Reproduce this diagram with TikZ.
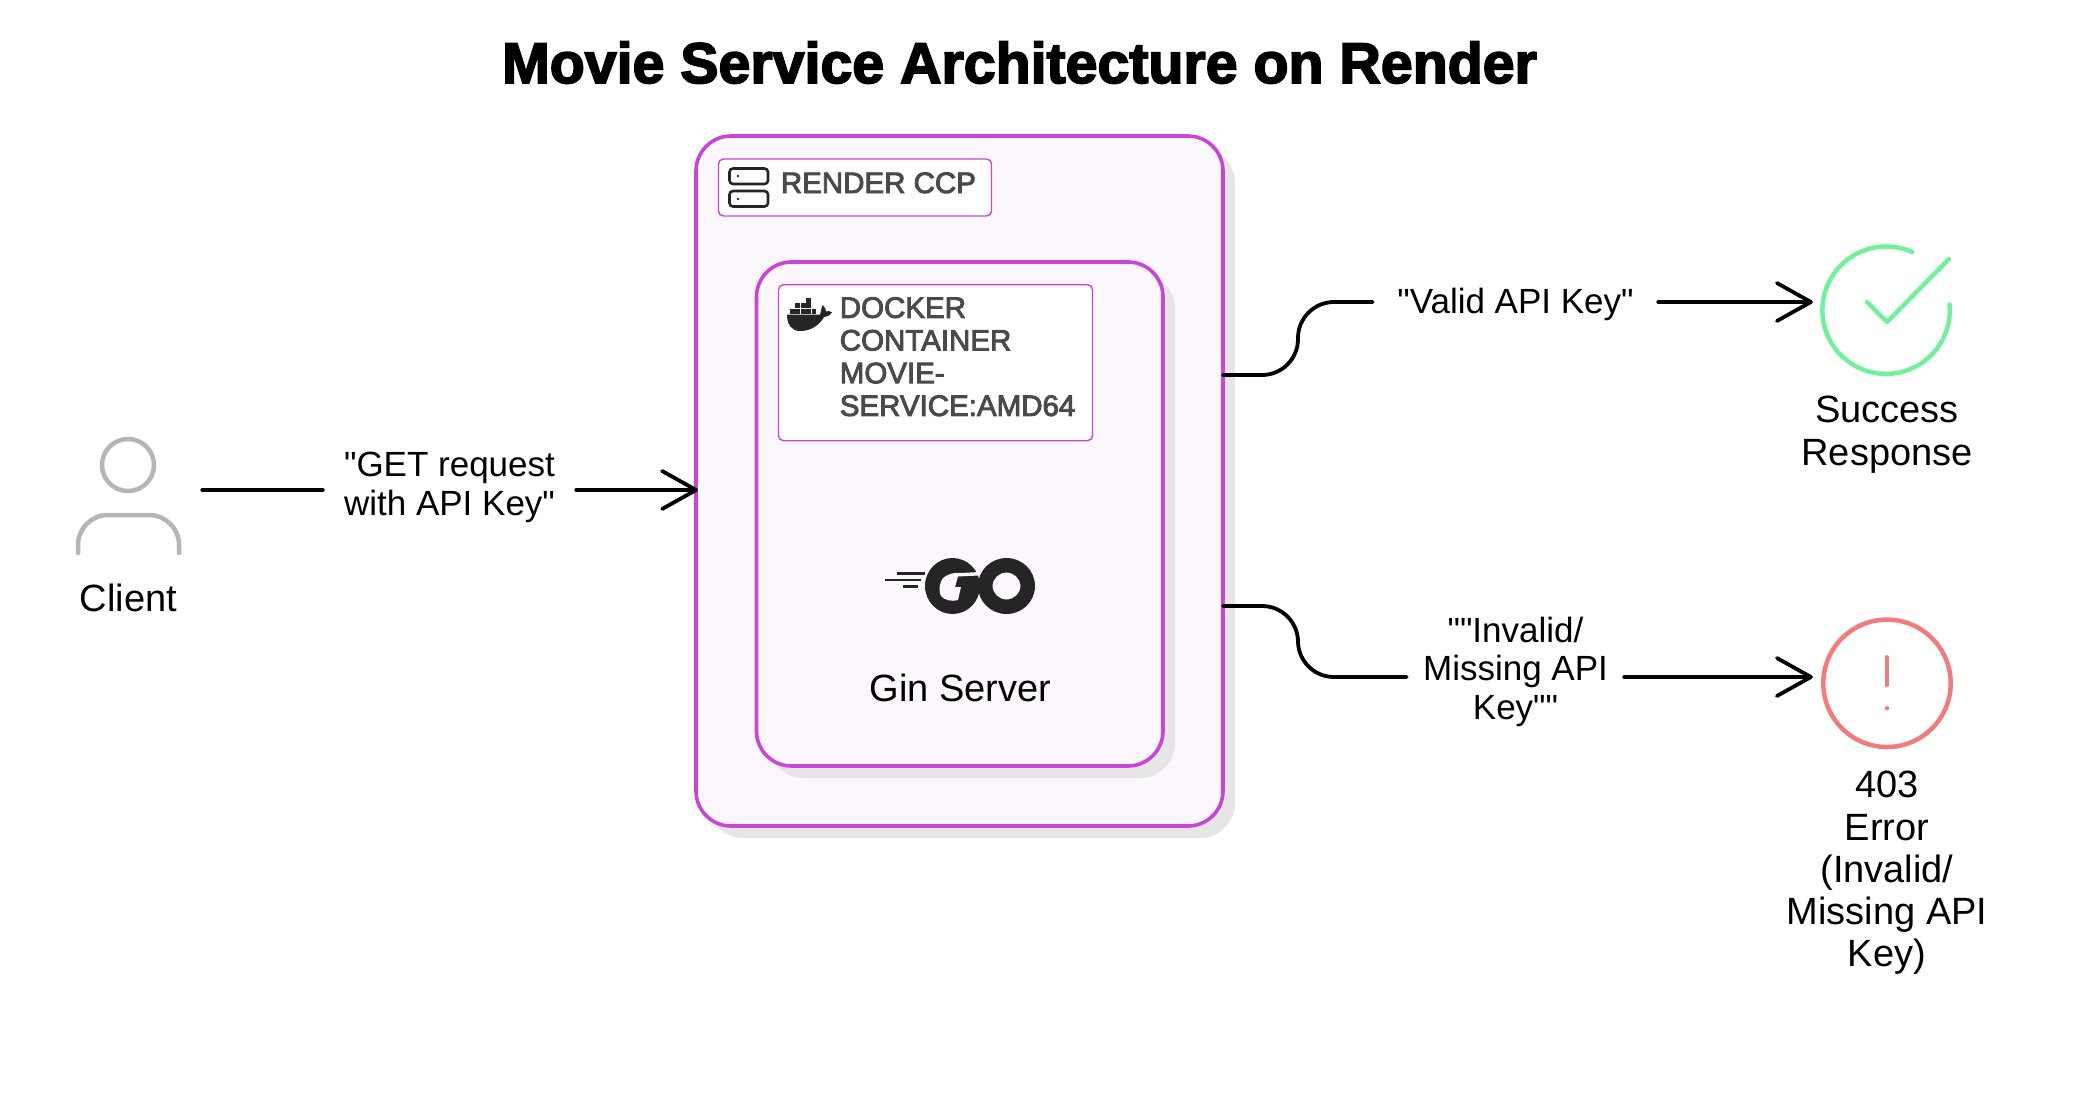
\documentclass[tikz,border=0pt]{standalone}
\usepackage{fontspec}
\setmainfont{Liberation Sans}[Ligatures=TeXOff, BoldFeatures={FakeBold=3}]
\newfontfamily\tagfont[FakeBold=3]{Liberation Sans}
\usetikzlibrary{arrows.meta,shadows}

\definecolor{panelline}{HTML}{C845D8}
\definecolor{panelfill}{HTML}{FBF7FD}
\definecolor{shadowgray}{HTML}{E6E6E6}
\definecolor{taggray}{HTML}{4A4A4A}
\definecolor{icondark}{HTML}{252525}
\definecolor{persongray}{HTML}{B5B5B5}
\definecolor{okgreen}{HTML}{72F09C}
\definecolor{errred}{HTML}{F27C7C}

\tikzset{
  panel/.style={draw=panelline, line width=3.6pt, fill=panelfill, rounded corners=35pt, outer sep=0pt,
    drop shadow={shadow xshift=12pt, shadow yshift=-12pt, fill=shadowgray, opacity=1}},
  tagbox/.style={draw=panelline, line width=1.4pt, fill=white, rounded corners=5pt},
  tagtext/.style={text=taggray, inner sep=0pt, align=left,
    font=\tagfont\fontsize{29.5}{32.7}\selectfont},
  iconslot/.style={inner sep=0pt, minimum height=100pt},
  flowlabel/.style={inner xsep=0pt, inner ysep=0pt, align=center,
    font=\fontsize{35}{38.5}\selectfont},
  nodetext/.style={inner sep=0pt, align=center, font=\fontsize{38}{42.3}\selectfont},
  flowline/.style={draw=black, line width=3.8pt, line cap=round},
  flowarrow/.style={flowline, shorten >=-2pt, -{Straight Barb[length=34pt, width=38pt, round]}},
}

\begin{document}
\begin{tikzpicture}[x=1pt, y=-1pt]
  \path[use as bounding box] (0,0) rectangle (2099,1098);

  \node[inner sep=0pt, anchor=base, font=\bfseries\fontsize{57.3}{60}\selectfont] (title) at (1019.5,83) {Movie Service Architecture on Render};

  \node[panel, minimum width=527pt, minimum height=690pt] (render) at (959.5,481) {};
  \node[tagbox, minimum width=273pt, minimum height=57pt] (rendertag) at (855,187.5) {};
  \node[tagtext, anchor=base west] (rendertext) at (780.7,193) {RENDER CCP};

  \node[panel, minimum width=406.5pt, minimum height=504pt] (gin) at (959.75,514) {};
  \node[tagbox, minimum width=314pt, minimum height=156pt] (dockertag) at (935.5,362.7) {};
  \node[tagtext, anchor=north west] (dockertext) at (839.6,297) {DOCKER\\CONTAINER\\MOVIE-\\SERVICE:AMD64};
  \node[nodetext, anchor=base] (ginlabel) at (960.5,701.5) {Gin Server};

  \draw[icondark, line width=2.6pt, rounded corners=3.5pt] (729.5,168.5) rectangle (768,184);
  \draw[icondark, line width=2.6pt, rounded corners=3.5pt] (729.5,191) rectangle (768,206.5);
  \fill[icondark] (738,176) circle (1.3pt) (738,199) circle (1.3pt);

  \fill[icondark] (787,314.5) -- (820,314.5) .. controls (821.5,311) and (821,307.5) .. (822.5,305)
    .. controls (825,307) and (826,309) .. (826,311.5) .. controls (828,310.5) and (830,311) .. (832,312.5)
    .. controls (829,316) and (826.5,317) .. (824,317) .. controls (819,326) and (810,331) .. (800,331)
    .. controls (792,331) and (787,325) .. (787,314.5) -- cycle;
  \foreach \blockx in {790,795.4,800.8,806.2,811.6}
    \fill[icondark] (\blockx,308.8) rectangle ++(4.7,4.7);
  \foreach \blockx in {795.4,800.8,806.2}
    \fill[icondark] (\blockx,303.4) rectangle ++(4.7,4.7);
  \fill[icondark] (806.2,298) rectangle ++(4.7,4.7);

  \draw[icondark, line width=2.8pt] (897,573.3) -- (925,573.3) (885,580) -- (921,580) (903,586.7) -- (918,586.7);
  \fill[icondark] (952.5,586) ellipse [x radius=27.5pt, y radius=28pt];
  \fill[panelfill] (960,573) -- (980,572) -- (979,575.5) -- (958,576.5) -- (955,587) -- (961,587) -- (958,600)
    .. controls (952,602) and (944,600) .. (941,596) .. controls (938,589) and (940,582) .. (943,578)
    .. controls (947,574.5) and (954,572) .. (960,573) -- cycle;
  \fill[icondark, even odd rule] (1006.5,586) ellipse [x radius=28.5pt, y radius=28pt]
    (1006.5,586) ellipse [x radius=14pt, y radius=13.5pt];

  \node[iconslot, minimum width=147pt] (person) at (128.5,490) {};
  \draw[persongray, line width=4.5pt] (128,465) circle (26pt);
  \draw[persongray, line width=4.5pt, line cap=round, rounded corners=30pt] (78,553) -- (78,515) -- (179,515) -- (179,553);
  \node[nodetext, anchor=base] (client) at (128.5,611) {Client};

  \node[iconslot, minimum width=152pt] (success) at (1887,308) {};
  \draw[okgreen, line width=4.5pt, line cap=round] (1912,252) arc [start angle=66, end angle=365, radius=63.7pt];
  \draw[okgreen, line width=4.5pt, line cap=round, line join=round] (1867,302) -- (1887,322) -- (1949,259);
  \node[nodetext, anchor=north] (successlabel) at (1887,396) {Success\\Response};

  \node[iconslot, minimum width=152pt] (error) at (1887,683) {};
  \draw[errred, line width=4.5pt] (1887,683.3) circle (63.7pt);
  \draw[errred, line width=4.5pt, line cap=round] (1887,657.3) -- (1887,685);
  \fill[errred] (1887,708.3) circle (2.2pt);
  \node[nodetext, anchor=north] (errorlabel) at (1887,771) {403\\Error\\(Invalid/\\Missing API\\Key)};

  \node[flowlabel, minimum width=253pt] (reqlabel) at (449.5,487.5) {"GET request\\with API Key"};
  \node[flowlabel, minimum width=285pt] (validlabel) at (1515.5,304.5) {"Valid API Key"};
  \node[flowlabel, minimum width=217pt] (invalidlabel) at (1515.5,671.5) {""Invalid/\\Missing API\\Key""};
  \coordinate (reqline) at (449.5,490);
  \coordinate (validline) at (1515.5,302);
  \coordinate (invalidline) at (1515.5,677);

  \draw[flowline] (person.east) -- (reqlabel.west |- reqline);
  \path (reqlabel.east |- reqline) edge[flowarrow] (render.west |- reqline);

  \draw[flowline, rounded corners=36pt] (render.east |- 0,375) -| (1298,302) -- (validlabel.west |- validline);
  \path (validlabel.east |- validline) edge[flowarrow] (validline -| success.west);

  \draw[flowline, rounded corners=36pt] (render.east |- 0,606) -| (1298,677) -- (invalidlabel.west |- invalidline);
  \path (invalidlabel.east |- invalidline) edge[flowarrow] (invalidline -| error.west);
\end{tikzpicture}
\end{document}
